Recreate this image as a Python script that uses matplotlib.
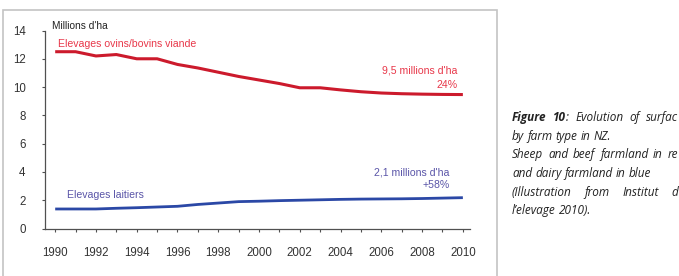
import matplotlib
matplotlib.use("Agg")
from matplotlib import pyplot as plt
from matplotlib.patches import Rectangle

years = [1990, 1991, 1992, 1993, 1994, 1995, 1996, 1997, 1998, 1999, 2000,
         2001, 2002, 2003, 2004, 2005, 2006, 2007, 2008, 2009, 2010]
viande = [12.5, 12.5, 12.2, 12.3, 12.0, 12.0, 11.6, 11.35, 11.05, 10.75, 10.5,
          10.25, 9.95, 9.95, 9.8, 9.67, 9.58, 9.53, 9.5, 9.48, 9.47]
laitiers = [1.38, 1.38, 1.38, 1.43, 1.47, 1.52, 1.57, 1.7, 1.8, 1.9, 1.93,
            1.97, 2.0, 2.03, 2.06, 2.08, 2.09, 2.1, 2.12, 2.15, 2.18]
yticks = [0, 2, 4, 6, 8, 10, 12, 14]
xlabels = list(range(1990, 2011, 2))

# caption as it shows in the reference (the page cuts it at the right edge)
caption = [
    ("Figure 10: Evolution of surfac", True),
    ("by farm type in NZ.", False),
    ("Sheep and beef farmland in re", True),
    ("and dairy farmland in blue", False),
    ("(Illustration from Institut d", True),
    ("l\u2019elevage 2010).", False),
]

RED = "#cc1a2c"
RED_TXT = "#e8384a"
BLUE = "#2b48a6"
BLUE_TXT = "#5a55a8"
AXC = "#505050"
W, H = 679, 276

fig = plt.figure(figsize=(W / 100, H / 100), dpi=100)
sans = ["Liberation Sans", "DejaVu Sans"]

# grey frame around the chart
fig.patches.append(Rectangle((3 / W, -0.02), 494 / W, (H - 10) / H + 0.02,
                             transform=fig.transFigure, fill=False,
                             ec="#c4c4c4", lw=1.2))

ax = fig.add_axes([45 / W, (H - 228.5) / H, 425 / W, 198 / H])
ax.plot(years, viande, color=RED, lw=2.2, solid_capstyle="butt")
ax.plot(years, laitiers, color=BLUE, lw=2.0, solid_capstyle="butt")
ax.set_xlim(1989.5, 2010.35)
ax.set_ylim(0, 14)
ax.set_yticks(yticks)
ax.set_xticks(years)
ax.set_xticklabels([str(y) if y in xlabels else "" for y in years])
for s in ["top", "right"]:
    ax.spines[s].set_visible(False)
for s in ["left", "bottom"]:
    ax.spines[s].set_color(AXC)
    ax.spines[s].set_linewidth(0.9)
ax.tick_params(axis="y", length=2, width=0.8, color=AXC, pad=12,
               labelsize=8.3, labelcolor="#333333")
ax.tick_params(axis="x", length=2.5, width=0.8, color=AXC, pad=11,
               labelsize=8.3, labelcolor="#333333")
for lab in ax.get_xticklabels() + ax.get_yticklabels():
    lab.set_family(sans)

ax.text(1989.85, 14.35, "Millions d'ha", fontsize=7.3, color="#222222",
        family=sans, va="center")
ax.text(1990.15, 13.05, "Elevages ovins/bovins viande", fontsize=7.6,
        color=RED_TXT, family=sans, va="center")
ax.text(1990.6, 2.35, "Elevages laitiers", fontsize=7.6,
        color=BLUE_TXT, family=sans, va="center")
ax.text(2009.75, 11.2, "9,5 millions d'ha", fontsize=7.6, color=RED_TXT,
        family=sans, ha="right", va="center")
ax.text(2009.75, 10.15, "24%", fontsize=7.6, color=RED_TXT,
        family=sans, ha="right", va="center")
ax.text(2009.35, 3.95, "2,1 millions d'ha", fontsize=7.6, color=BLUE_TXT,
        family=sans, ha="right", va="center")
ax.text(2009.35, 3.05, "+58%", fontsize=7.6, color=BLUE_TXT,
        family=sans, ha="right", va="center")

# caption on the right, justified lines reach the right edge
renderer = fig.canvas.get_renderer()
x0, x1 = 512, 678
line_y = [121, 140, 158, 177, 196, 214]  # baselines, px from top
cap_size = 8.5
cap_font = dict(family=["Open Sans", "DejaVu Sans"], fontsize=cap_size,
                style="italic", color="#222222", va="baseline")
for (line, justify), yy in zip(caption, line_y):
    words = line.split(" ")
    arts = []
    for i, w in enumerate(words):
        bold = line.startswith("Figure") and i < 2
        if bold and w.endswith(":"):
            t1 = fig.text(0, 1 - yy / H, w[:-1], weight="bold", **cap_font)
            t2 = fig.text(0, 1 - yy / H, ":", **cap_font)
            arts.append([t1, t2])
        else:
            t = fig.text(0, 1 - yy / H, w, weight="bold" if bold else "normal",
                         **cap_font)
            arts.append([t])
    widths = [[g.get_window_extent(renderer).width for g in grp] for grp in arts]
    total = sum(sum(w) for w in widths)
    space = renderer.points_to_pixels(cap_size) * 0.26
    if justify and len(arts) > 1:
        space = (x1 - x0 - total) / (len(arts) - 1)
    x = x0
    for grp, ws in zip(arts, widths):
        for g, w in zip(grp, ws):
            g.set_x(x / W)
            x += w
        x += space

fig.savefig("out.png", dpi=100)
